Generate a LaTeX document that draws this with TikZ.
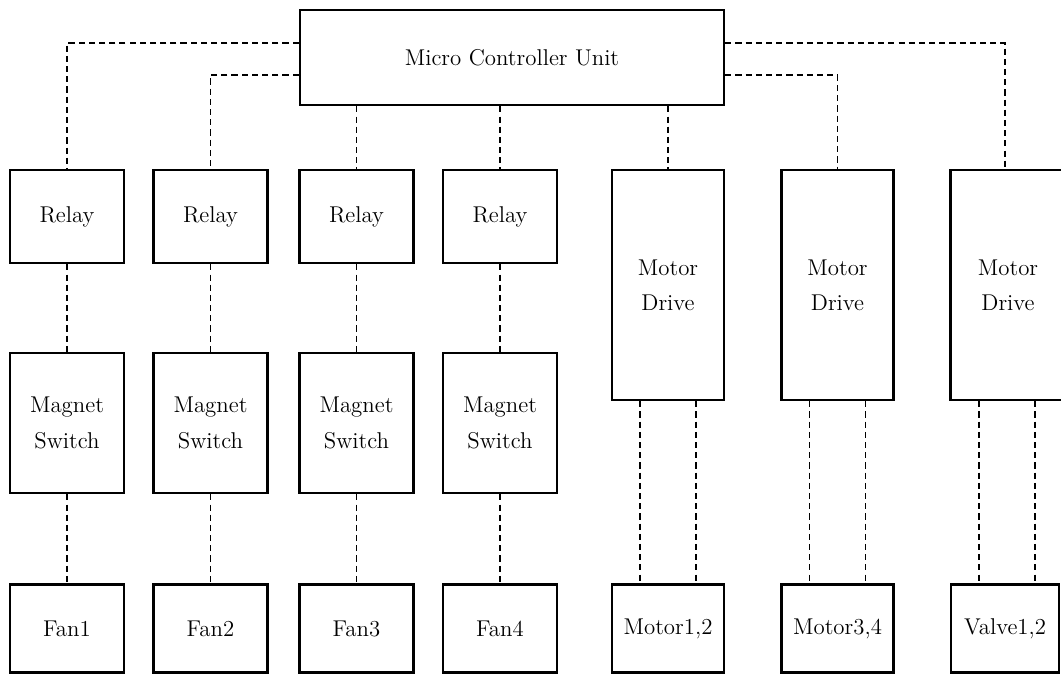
\documentclass[tikz,border=0pt]{standalone}
\usepackage{tikz}

\begin{document}
\begin{tikzpicture}[
            x=0.02cm, y=-0.02cm,
            unit/.style={
                draw,
                line width=1.5pt,
                inner sep=2pt,
                align=center,
                font=\fontsize{13}{20}\selectfont
            },
            relaybox/.style={unit, minimum width=2.28cm, minimum height=1.86cm},
            switchbox/.style={unit, minimum width=2.28cm, minimum height=2.8cm},
            loadbox/.style={unit, minimum width=2.28cm, minimum height=1.76cm},
            drivebox/.style={unit, minimum width=2.24cm, minimum height=4.6cm},
            link/.style={line width=0.6pt, dash pattern=on 3.5pt off 2.3pt}
        ]
            \useasboundingbox (0,0) rectangle (1061,676);

            \node[unit, minimum width=8.48cm, minimum height=1.9cm] (mcu) at (512,57.5) {Micro Controller Unit};

            % relay / magnet switch / fan columns
            \node[relaybox] (relay1) at (67,216.5) {Relay};
            \node[relaybox] (relay2) at (210.5,216.5) {Relay};
            \node[relaybox] (relay3) at (356.5,216.5) {Relay};
            \node[relaybox] (relay4) at (500,216.5) {Relay};
            \node[switchbox] (switch1) at (67,423) {Magnet\\Switch};
            \node[switchbox] (switch2) at (210.5,423) {Magnet\\Switch};
            \node[switchbox] (switch3) at (356.5,423) {Magnet\\Switch};
            \node[switchbox] (switch4) at (500,423) {Magnet\\Switch};
            \node[loadbox] (fan1) at (67,628.5) {Fan1};
            \node[loadbox] (fan2) at (210.5,628.5) {Fan2};
            \node[loadbox] (fan3) at (356.5,628.5) {Fan3};
            \node[loadbox] (fan4) at (500,628.5) {Fan4};

            % motor drive columns
            \node[drivebox] (drive1) at (668,285) {Motor\\Drive};
            \node[drivebox] (drive2) at (837.5,285) {Motor\\Drive};
            \node[drivebox, minimum width=2.3cm] (drive3) at (1008,285) {Motor\\Drive};
            \node[loadbox, minimum width=2.24cm] (motor1) at (668,628.5) {Motor1,2};
            \node[loadbox, minimum width=2.24cm] (motor2) at (837.5,628.5) {Motor3,4};
            \node[loadbox, minimum width=2.16cm] (valve) at (1005,628.5) {Valve1,2};

            % controller lines
            \draw[link] (mcu.west |- 0,43) -| (relay1.north);
            \draw[link] (mcu.west |- 0,75) -| (relay2.north);
            \draw[link] (mcu.south -| relay3.north) -- (relay3.north);
            \draw[link] (mcu.south -| relay4.north) -- (relay4.north);
            \draw[link] (mcu.south -| drive1.north) -- (drive1.north);
            \draw[link] (mcu.east |- 0,75) -| (drive2.north);
            \draw[link] (mcu.east |- 0,43) -| (valve.north |- drive3.north);

            \draw[link] (relay1) -- (switch1);
            \draw[link] (relay2) -- (switch2);
            \draw[link] (relay3) -- (switch3);
            \draw[link] (relay4) -- (switch4);
            \draw[link] (switch1) -- (fan1);
            \draw[link] (switch2) -- (fan2);
            \draw[link] (switch3) -- (fan3);
            \draw[link] (switch4) -- (fan4);

            \draw[link] ([xshift=-0.56cm]drive1.south) -- ([xshift=-0.56cm]motor1.north);
            \draw[link] ([xshift=0.56cm]drive1.south) -- ([xshift=0.56cm]motor1.north);
            \draw[link] ([xshift=-0.56cm]drive2.south) -- ([xshift=-0.56cm]motor2.north);
            \draw[link] ([xshift=0.56cm]drive2.south) -- ([xshift=0.56cm]motor2.north);
            \draw[link] ([xshift=-0.52cm]valve.north |- drive3.south) -- ([xshift=-0.52cm]valve.north);
            \draw[link] ([xshift=0.6cm]valve.north |- drive3.south) -- ([xshift=0.6cm]valve.north);
        \end{tikzpicture}
\end{document}
